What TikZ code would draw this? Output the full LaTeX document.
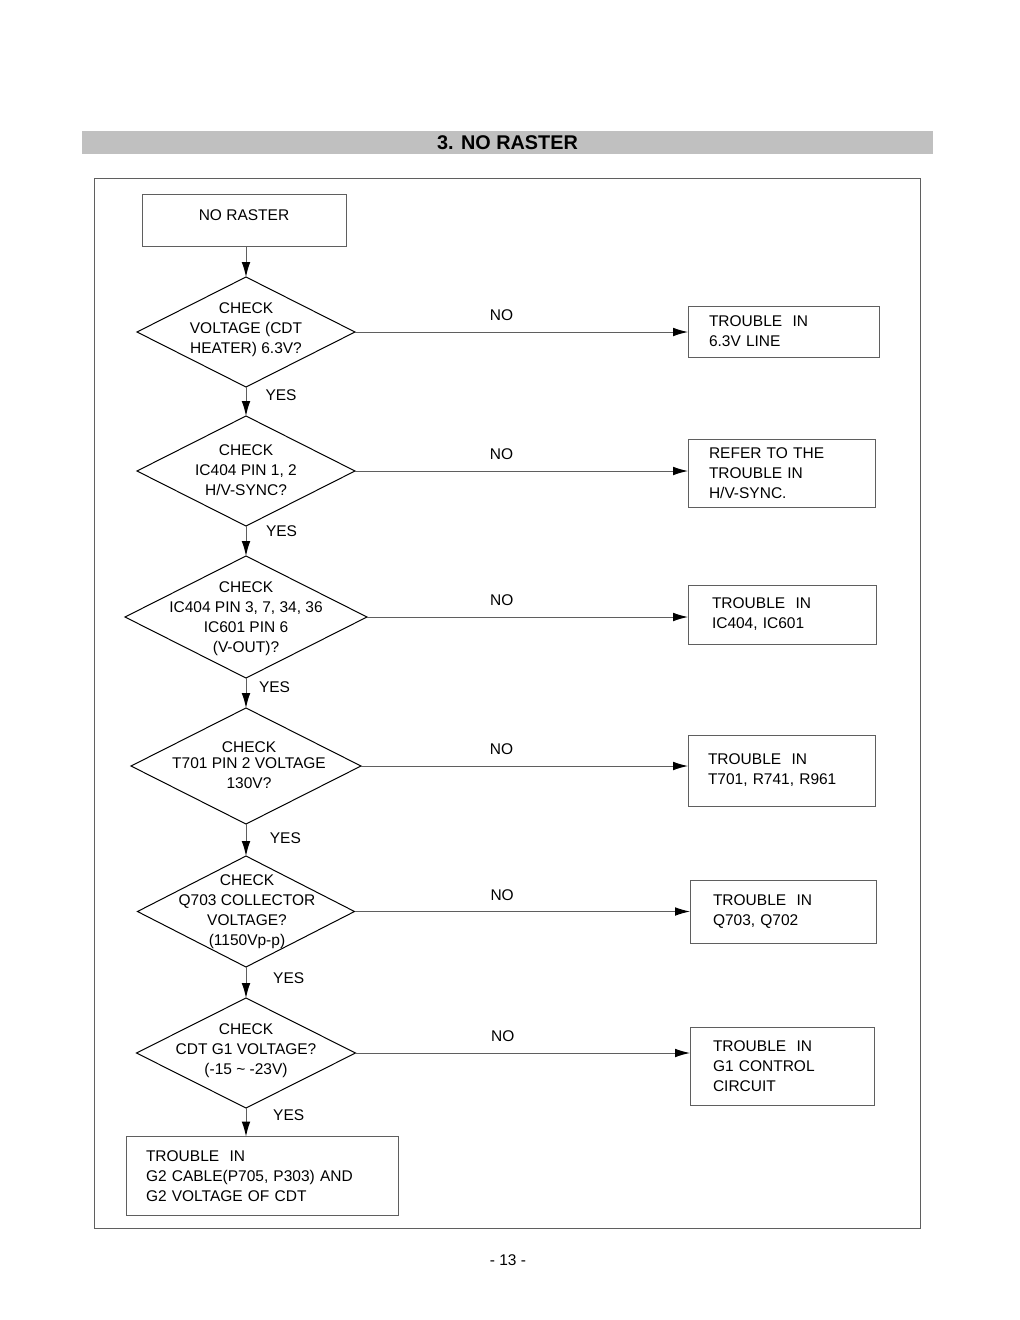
\documentclass[tikz,border=0pt]{standalone}
\usepackage{fontspec}
\setmainfont{Liberation Sans}
\usetikzlibrary{shapes.geometric,arrows.meta,positioning}

\definecolor{bargray}{RGB}{192,192,192}
\definecolor{linegray}{RGB}{95,95,95}

\tikzset{every picture/.style={line width=0.6pt},
  every node/.style={font=\fontsize{9.3}{12}\selectfont},
  decision/.style={draw=black, diamond, inner sep=0pt, outer sep=0pt},
  qtext/.style={align=center, inner sep=0pt},
  outbox/.style={draw=linegray, rectangle, anchor=west, align=left, inner ysep=0pt, outer sep=0pt},
  flow/.style={draw=linegray, -{Latex[length=9pt,width=5.2pt,color=black]}},
  nolabel/.style={inner sep=0pt, yshift=10pt},
  yeslabel/.style={inner sep=0pt, anchor=west}
}

\begin{document}
\begin{tikzpicture}[x=0.6pt,y=0.6pt,yscale=-1,xscale=1]
\useasboundingbox (0,0) rectangle (1020,1320);

%Title bar
\node[fill=bargray, minimum width=510.6pt, minimum height=13.8pt, inner sep=0pt, font=\bfseries\fontsize{11.9}{14}\selectfont] (title) at (507.5,142.5) {3. NO RASTER};
%Frame
\draw[linegray] (94,178) rectangle (920,1228);

%Start box
\node[draw=linegray, minimum width=122.4pt, inner sep=0pt, outer sep=0pt, text height=15.9pt, text depth=15.3pt] (start) at (244,220) {NO RASTER};

%Shape: Diamond
\node[decision, minimum width=130.8pt, minimum height=66pt] (d1) at (246,332) {};
\node[decision, minimum width=130.8pt, minimum height=66pt] (d2) at (246,471) {};
\node[decision, minimum width=145.2pt, minimum height=73.2pt] (d3) at (246,617) {};
\node[decision, minimum width=138pt, minimum height=69.6pt] (d4) at (246,766) {};
\node[decision, minimum width=130.2pt, minimum height=66.6pt] (d5) at (246,911.5) {};
\node[decision, minimum width=131.4pt, minimum height=66pt] (d6) at (246,1053) {};

% Text Node
\node[qtext] (q1) at (246,330) {CHECK\\VOLTAGE (CDT\\HEATER) 6.3V?};
% Text Node
\node[qtext] (q2) at (246,470) {CHECK\\IC404 PIN 1, 2\\H/V-SYNC?};
% Text Node
\node[qtext] (q3) at (246,619) {CHECK\\IC404 PIN 3, 7, 34, 36\\IC601 PIN 6\\(V-OUT)?};
% Text Node
\node[qtext] (q4) at (249,765) {CHECK\\[-2.4pt]T701 PIN 2 VOLTAGE\\130V?};
% Text Node
\node[qtext] (q5) at (247,912) {CHECK\\Q703 COLLECTOR\\VOLTAGE?\\(1150Vp-p)};
% Text Node
\node[qtext] (q6) at (246,1051) {CHECK\\CDT G1 VOLTAGE?\\(-15 \textasciitilde\ -23V)};

%Shape: Rectangle
\node[outbox, minimum width=114.6pt, minimum height=30.6pt, text width=89.4pt, inner xsep=12.6pt] (b1) at (688,331.5) {TROUBLE\ \ IN\\6.3V LINE};
\node[outbox, minimum width=112.2pt, minimum height=40.8pt, text width=87pt, inner xsep=12.6pt] (b2) at (688,473) {REFER TO THE\\TROUBLE IN\\H/V-SYNC.};
\node[outbox, minimum width=112.8pt, minimum height=35.4pt, text width=84pt, inner xsep=14.4pt] (b3) at (688,614.5) {TROUBLE\ \ IN\\IC404, IC601};
\node[outbox, minimum width=112.2pt, minimum height=42.6pt, text width=88.2pt, inner xsep=12pt] (b4) at (688,770.5) {TROUBLE\ \ IN\\T701, R741, R961};
\node[outbox, minimum width=111.6pt, minimum height=37.8pt, text width=84pt, inner xsep=13.8pt] (b5) at (690,911.5) {TROUBLE\ \ IN\\Q703, Q702};
\node[outbox, minimum width=110.4pt, minimum height=46.8pt, text width=82.8pt, inner xsep=13.8pt] (b6) at (690,1066) {TROUBLE\ \ IN\\G1 CONTROL\\CIRCUIT};
\node[outbox, minimum width=163.2pt, minimum height=47.4pt, text width=139.2pt, inner xsep=12pt] (fin) at (126,1176) {TROUBLE\ \ IN\\G2 CABLE(P705, P303) AND\\G2 VOLTAGE OF CDT};

%Straight Lines (YES branch)
\draw[flow] (start.south -| d1.north) -- (d1.north);
\draw[flow] (d1.south) -- node[yeslabel, pos=.28, xshift=11.4pt] (y1) {YES} (d2.north);
\draw[flow] (d2.south) -- node[yeslabel, pos=.17, xshift=11.7pt] (y2) {YES} (d3.north);
\draw[flow] (d3.south) -- node[yeslabel, pos=.30, xshift=7.5pt] (y3) {YES} (d4.north);
\draw[flow] (d4.south) -- node[yeslabel, pos=.44, xshift=14pt] (y4) {YES} (d5.north);
\draw[flow] (d5.south) -- node[yeslabel, pos=.35, xshift=16pt] (y5) {YES} (d6.north);
\draw[flow] (d6.south) -- node[yeslabel, pos=.24, xshift=16pt] (y6) {YES} (d6.south |- fin.north);

%Straight Lines (NO branch)
\draw[flow] (d1.east) -- node[nolabel, pos=.44] (n1) {NO} (d1.east -| b1.west);
\draw[flow] (d2.east) -- node[nolabel, pos=.44] (n2) {NO} (d2.east -| b2.west);
\draw[flow] (d3.east) -- node[nolabel, pos=.42] (n3) {NO} (d3.east -| b3.west);
\draw[flow] (d4.east) -- node[nolabel, pos=.43] (n4) {NO} (d4.east -| b4.west);
\draw[flow] (d5.east) -- node[nolabel, pos=.44] (n5) {NO} (d5.east -| b5.west);
\draw[flow] (d6.east) -- node[nolabel, pos=.44] (n6) {NO} (d6.east -| b6.west);

% Text Node
\node (page) at (508,1260) {- 13 -};

\end{tikzpicture}
\end{document}
